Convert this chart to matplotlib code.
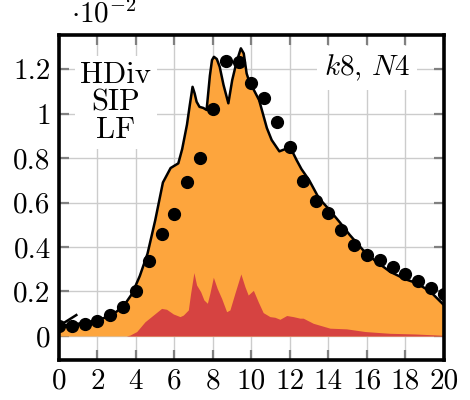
import numpy as np
import matplotlib
matplotlib.use('Agg')
import matplotlib.pyplot as plt
from matplotlib.ticker import FuncFormatter

plt.rcParams['font.family'] = 'serif'
plt.rcParams['font.serif'] = ['cmr10']
plt.rcParams['mathtext.fontset'] = 'cm'
plt.rcParams['axes.unicode_minus'] = False

# values in units of 1e-2
dot_x = np.arange(31) * 2.0 / 3.0
dot_y = [0.046, 0.046, 0.054, 0.069, 0.094, 0.132, 0.202, 0.337, 0.458, 0.547,
         0.69, 0.80, 1.019, 1.236, 1.23, 1.136, 1.071, 0.96, 0.851, 0.695,
         0.608, 0.551, 0.476, 0.409, 0.364, 0.342, 0.312, 0.279, 0.249, 0.217, 0.189]

tot_x = [0, 0.5, 1, 1.5, 2, 2.5, 3, 3.4, 3.8, 4.2, 4.6, 5.0, 5.4, 5.8, 6.2, 6.4,
         6.65, 6.8, 6.94, 7.05, 7.15, 7.3, 7.5, 7.67, 7.84, 7.95, 8.05, 8.2, 8.35,
         8.55, 8.8, 9.0, 9.23, 9.45, 9.6, 9.75, 9.9, 10.1, 10.4, 10.8, 11.05, 11.45,
         11.75, 12.0, 12.35, 12.6, 13.0, 13.5, 14.0, 14.6, 15.1, 15.8, 16.4, 17.2,
         18.0, 18.6, 19.3, 20]
tot_y = [0.045, 0.05, 0.055, 0.062, 0.072, 0.085, 0.11, 0.14, 0.19, 0.27, 0.37,
         0.52, 0.69, 0.755, 0.776, 0.84, 0.95, 1.04, 1.12, 1.09, 1.053, 1.03, 1.025,
         1.016, 1.17, 1.24, 1.255, 1.245, 1.21, 1.128, 1.046, 1.15, 1.233, 1.293,
         1.27, 1.18, 1.14, 1.11, 1.06, 0.935, 0.881, 0.83, 0.84, 0.851, 0.79, 0.75,
         0.70, 0.62, 0.572, 0.51, 0.455, 0.386, 0.34, 0.289, 0.255, 0.237, 0.199, 0.139]
# small stray segment at the start of the outline
tail_x = [0.9, 0.0]
tail_y = [0.094, 0.045]

red_x = [0, 3.5, 3.69, 4.04, 4.47, 4.9, 5.33, 5.59, 5.94, 6.29, 6.46, 6.72, 6.84,
         7.01, 7.15, 7.36, 7.53, 7.71, 7.84, 8.02, 8.22, 8.45, 8.71, 8.88, 9.14,
         9.45, 9.66, 9.83, 10.1, 10.35, 10.61, 10.96, 11.22, 11.48, 11.83, 12.17,
         12.52, 12.69, 13.21, 14.08, 14.94, 15.9, 16.7, 17.2, 18.5, 20]
red_y = [0, 0, 0.004, 0.02, 0.064, 0.094, 0.124, 0.12, 0.099, 0.087, 0.094, 0.117,
         0.192, 0.285, 0.229, 0.199, 0.162, 0.147, 0.192, 0.264, 0.214, 0.169,
         0.109, 0.117, 0.192, 0.279, 0.222, 0.184, 0.205, 0.154, 0.105, 0.087,
         0.084, 0.075, 0.092, 0.087, 0.08, 0.08, 0.057, 0.035, 0.032, 0.02, 0.015,
         0.012, 0.009, 0.003]

orange = '#fda53d'
red = '#d64341'

fig = plt.figure(figsize=(4.7, 4.0), dpi=100)
ax = fig.add_axes([0.1255, 0.1, 0.819, 0.8125])

ax.fill_between(tot_x, 0, tot_y, color=orange, lw=0, zorder=2)
ax.fill_between(red_x, 0, red_y, color=red, lw=0, zorder=3)
ax.plot(tot_x, tot_y, 'k-', lw=1.8, zorder=4, solid_joinstyle='round')
ax.plot(tail_x, tail_y, 'k-', lw=1.8, zorder=4)
ax.plot(dot_x, dot_y, 'ko', ms=8.5, zorder=5)

ax.set_xlim(0, 20)
ax.set_ylim(-0.108, 1.353)
ax.set_xticks(np.arange(0, 21, 2))
ax.set_yticks([0, 0.2, 0.4, 0.6, 0.8, 1.0, 1.2])
ax.yaxis.set_major_formatter(FuncFormatter(lambda v, p: '%g' % round(v, 3)))
ax.grid(True, color='#cccccc', lw=1.0, zorder=0)
ax.set_axisbelow(True)
ax.tick_params(direction='in', length=7, width=1.6, color='#808080',
               top=True, right=True, labelsize=21, pad=6)
for s in ax.spines.values():
    s.set_linewidth(2.6)
    s.set_zorder(6)

ax.text(2.95, 1.05, 'HDiv\nSIP\nLF', ha='center', va='center', fontsize=22,
        linespacing=1.0, zorder=7,
        bbox=dict(facecolor='white', edgecolor='none', pad=4))
ax.text(16.0, 1.205, r'$k8$, $N4$', ha='center', va='center', fontsize=21, zorder=7,
        bbox=dict(facecolor='white', edgecolor='none', pad=5))
fig.text(104 / 470, 1 - 14 / 400, r'$\cdot 10^{-2}$', ha='center', va='center',
         fontsize=21)

fig.savefig('out.png', dpi=100)
